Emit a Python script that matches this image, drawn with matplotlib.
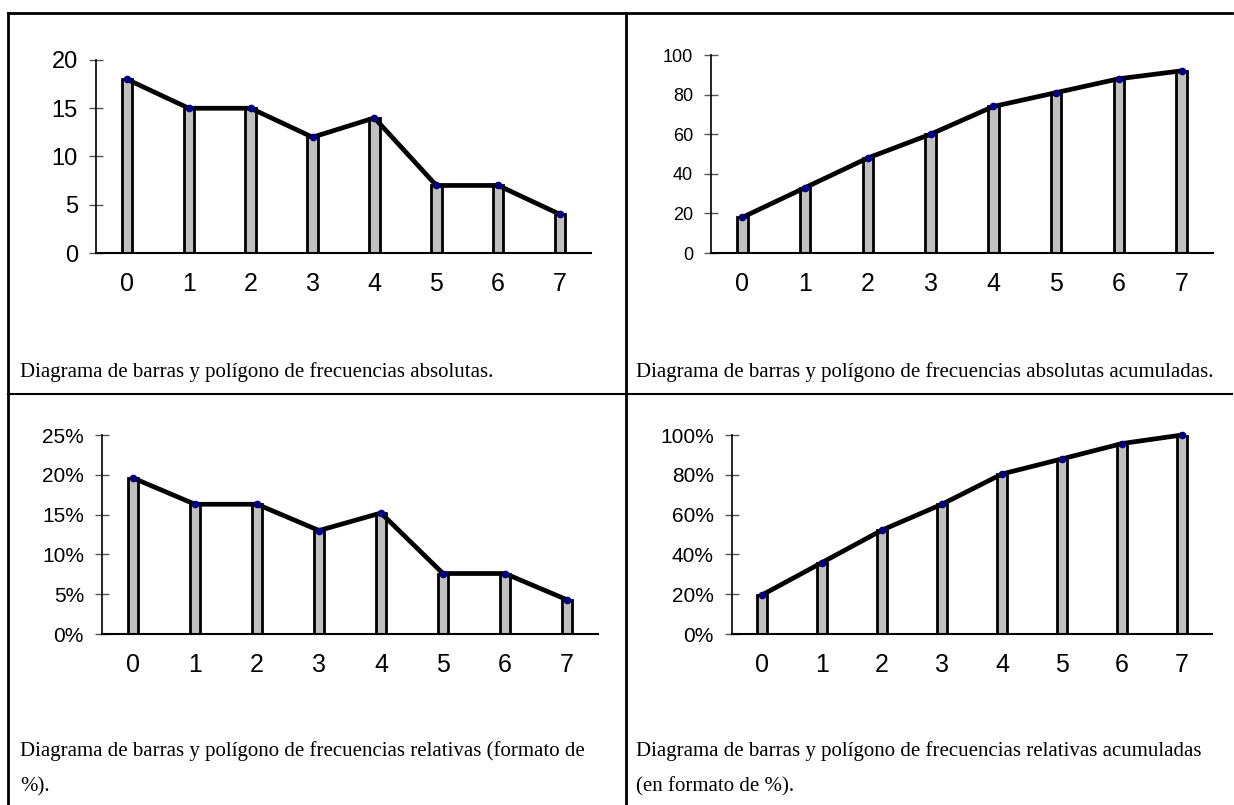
import matplotlib
matplotlib.use("Agg")
import matplotlib.pyplot as plt
from matplotlib.lines import Line2D

# Frequency table of the variable (values 0..7)
valores = [0, 1, 2, 3, 4, 5, 6, 7]
frec_abs = [18, 15, 15, 12, 14, 7, 7, 4]
frec_abs_acum = [18, 33, 48, 60, 74, 81, 88, 92]
frec_rel = [19.6, 16.3, 16.3, 13.0, 15.2, 7.6, 7.6, 4.3]
frec_rel_acum = [19.6, 35.9, 52.2, 65.2, 80.4, 88.0, 95.7, 100.0]

ticks_abs = [0, 5, 10, 15, 20]
ticks_abs_acum = [0, 20, 40, 60, 80, 100]
ticks_rel = [0, 5, 10, 15, 20, 25]
ticks_rel_acum = [0, 20, 40, 60, 80, 100]

pies = [
    ["Diagrama de barras y polígono de frecuencias absolutas."],
    ["Diagrama de barras y polígono de frecuencias absolutas acumuladas."],
    ["Diagrama de barras y polígono de frecuencias relativas (formato de", "%)."],
    ["Diagrama de barras y polígono de frecuencias relativas acumuladas", "(en formato de %)."],
]

W, H = 1234, 805
fig = plt.figure(figsize=(W / 100, H / 100), dpi=100)


def px_axes(left, bottom, right, top):
    # pixel box (y measured from the top) -> figure fraction
    return fig.add_axes([left / W, 1 - bottom / H, (right - left) / W, (bottom - top) / H])


def panel(ax, y, yticks, ylabels, ysize):
    ax.bar(valores, y, width=0.17, color="#c0c0c0", edgecolor="black", linewidth=2, zorder=2)
    ax.plot(valores, y, color="black", linewidth=3.4, zorder=3, solid_capstyle="butt", clip_on=False)
    ax.plot(valores, y, "o", color="#000080", markersize=4.5, zorder=4, clip_on=False)
    ax.set_xlim(-0.5, 7.5)
    ax.set_ylim(0, yticks[-1])
    ax.set_xticks(valores)
    ax.set_xticklabels([str(v) for v in valores], fontsize=18, family="Liberation Sans")
    ax.set_yticks(yticks)
    ax.set_yticklabels(ylabels, fontsize=ysize, family="Liberation Sans")
    ax.tick_params(axis="x", length=0, pad=14)
    ax.tick_params(axis="y", direction="inout", length=10, width=1, color="#555555", pad=8)
    for s in ("top", "right"):
        ax.spines[s].set_visible(False)
    ax.spines["left"].set_linewidth(1.2)
    ax.spines["bottom"].set_linewidth(1.5)
    ax.patch.set_alpha(0)


ax1 = px_axes(96, 253, 591, 60)
panel(ax1, frec_abs, ticks_abs, [str(t) for t in ticks_abs], 17)

ax2 = px_axes(711, 253, 1213, 55)
panel(ax2, frec_abs_acum, ticks_abs_acum, [str(t) for t in ticks_abs_acum], 13)

ax3 = px_axes(102, 634, 598, 435)
panel(ax3, frec_rel, ticks_rel, [f"{t}%" for t in ticks_rel], 15)

ax4 = px_axes(732, 634, 1212, 435)
panel(ax4, frec_rel_acum, ticks_rel_acum, [f"{t}%" for t in ticks_rel_acum], 15)

# captions under each chart, one text per line
pos_pies = [(20, 372), (636, 372), (20, 751), (636, 751)]
for (x, y), lineas in zip(pos_pies, pies):
    for i, t in enumerate(lineas):
        fig.text(x / W, 1 - (y + 36 * i) / H, t, fontsize=15, family="Liberation Serif",
                 va="center", ha="left")

# table grid
def linea(x0, y0, x1, y1, lw=2):
    fig.add_artist(Line2D([x0 / W, x1 / W], [1 - y0 / H, 1 - y1 / H],
                          color="black", linewidth=lw, transform=fig.transFigure))

linea(8, 13, 1232, 13)
linea(8, 13, 8, 805)
linea(626, 13, 626, 805)
linea(8, 394, 1232, 394, lw=1.5)

fig.savefig("out.png", dpi=100)
